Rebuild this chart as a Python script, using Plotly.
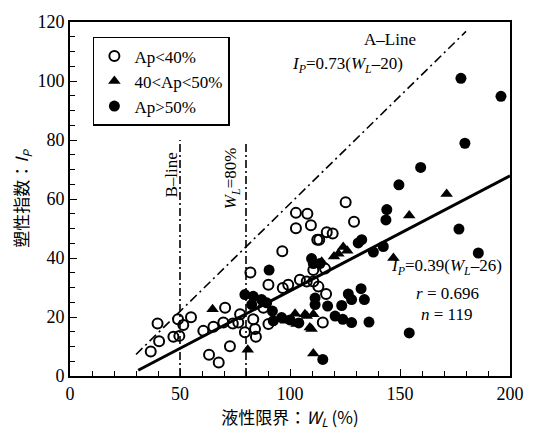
import plotly.graph_objects as go

# Ap < 40 %
open_wl = [36.7, 40.5, 39.8, 47, 49.7, 49.1, 51.5, 55, 60.6, 65.2, 69.7, 70.5, 63.2, 67.6, 72.7,
           74, 77.3, 79.5, 84.1, 84.5, 83.3, 90.2, 87.9, 82, 90.2, 96.7, 99.2, 104.5, 107.6, 110.6,
           96.5, 102.7, 107.9, 102.7, 109.5, 112.4, 116.7, 119.4, 113.3, 125.3, 129.1, 110.6,
           115.9, 114.9, 112.9, 116.4, 76.5]
open_ip = [8.3, 11.8, 17.8, 13.3, 13.6, 19.2, 17.3, 19.9, 15.3, 16.7, 18.1, 23.1, 7.2, 4.6, 10.1,
           17.8, 20.9, 14.8, 15.9, 13.3, 19.2, 17.6, 23.1, 35.1, 30.9, 29.8, 30.9, 32.6, 32, 32,
           42.3, 55.3, 55, 50.1, 51.1, 46.2, 48.7, 48.3, 46.2, 58.9, 52.3, 35.9,
           36.4, 18.1, 30.3, 27.8, 18.1]

# 40 < Ap < 50 %
tri_wl = [171.2, 154.2, 147, 124.2, 122, 126, 120, 114.4, 64.8, 102.3, 103, 98.2, 107.6, 109,
          106.8, 110.6, 109.8, 80.8, 110.6]
tri_ip = [61.7, 54.4, 40, 43.7, 41.4, 42.5, 40.5, 38.7, 22.6, 21.1, 17.6, 18.7, 20.3, 16.4,
          20.9, 20.9, 15.9, 8.9, 7.6]

# Ap > 50 %
fill_wl = [177.7, 195.9, 179.5, 159.4, 149.5, 144, 143.6, 176.8, 185.6, 132.6, 131, 137.9, 142.4,
           109.8, 110.6, 113.6, 90.5, 132.3, 126.5, 128, 133.8, 123.5, 117.1, 120.5, 124, 128,
           135.9, 154.2, 114.9, 111.4, 111.4, 79.5, 83.3, 87.1, 89.4, 82.6, 92.4, 96.2, 100, 104, 92]
fill_ip = [100.9, 94.8, 78.9, 70.7, 64.8, 56.4, 52.9, 49.8, 41.7, 46.2, 45.1, 42, 43.9,
           39.8, 38.1, 38.1, 35.9, 29.6, 27.8, 25.9, 25.9, 23.9, 23.7, 20.3, 19.2, 18.1,
           18.3, 14.6, 5.6, 26.4, 24.2, 27.6, 27, 25.9, 24.8, 24.2, 18.7, 19.8, 19, 18, 22]

# reference lines
a_wl = [30, 180]
a_ip = [0.73 * (w - 20) for w in a_wl]
reg_wl = [31, 200]
reg_ip = [0.39 * (w - 26) for w in reg_wl]
b_wl = [50, 50]
b_ip = [0, 80]
w80_wl = [80, 80]
w80_ip = [0, 79]

SERIF = "Liberation Serif, Times New Roman, serif"
CJK = "Noto Sans CJK JP"

fig = go.Figure()
fig.add_trace(go.Scatter(x=a_wl, y=a_ip, mode="lines", showlegend=False,
                         line=dict(color="black", width=1.6, dash="9px,4px,2px,4px")))
fig.add_trace(go.Scatter(x=b_wl, y=b_ip, mode="lines", showlegend=False,
                         line=dict(color="black", width=1.6, dash="8px,3px,2px,3px")))
fig.add_trace(go.Scatter(x=w80_wl, y=w80_ip, mode="lines", showlegend=False,
                         line=dict(color="black", width=1.6, dash="8px,3px,2px,3px")))
fig.add_trace(go.Scatter(x=reg_wl, y=reg_ip, mode="lines", showlegend=False,
                         line=dict(color="black", width=3)))
fig.add_trace(go.Scatter(x=open_wl, y=open_ip, mode="markers", name="Ap<40%",
                         marker=dict(symbol="circle-open", size=10, color="black",
                                     line=dict(width=2, color="black"))))
fig.add_trace(go.Scatter(x=tri_wl, y=tri_ip, mode="markers", name="40<Ap<50%",
                         marker=dict(symbol="triangle-up", size=11, color="black")))
fig.add_trace(go.Scatter(x=fill_wl, y=fill_ip, mode="markers", name="Ap>50%",
                         marker=dict(symbol="circle", size=11, color="black")))

ann_font = dict(family=SERIF, size=17, color="black")
fig.add_annotation(x=145.5, y=114, text="A–Line", showarrow=False, font=ann_font)
fig.add_annotation(x=126, y=105.5, text="<i>I</i><sub><i>P</i></sub>=0.73(<i>W</i><sub><i>L</i></sub>–20)",
                   showarrow=False, font=ann_font)
fig.add_annotation(x=171, y=37, text="<i>I</i><sub><i>P</i></sub>=0.39(<i>W</i><sub><i>L</i></sub>–26)",
                   showarrow=False, font=ann_font)
fig.add_annotation(x=171.5, y=28, text="<i>r</i> = 0.696", showarrow=False, font=ann_font)
fig.add_annotation(x=171, y=21, text="<i>n</i> = 119", showarrow=False, font=ann_font)
fig.add_annotation(x=46, y=68, text="B–line", textangle=-90, showarrow=False, font=ann_font)
fig.add_annotation(x=74, y=67, text="<i>W</i><sub><i>L</i></sub>=80%", textangle=-90,
                   showarrow=False, font=ann_font)

fig.update_xaxes(range=[0, 200], tickvals=[0, 50, 100, 150, 200], ticks="inside", ticklen=7,
                 tickwidth=1.2, tickcolor="black",
                 minor=dict(dtick=10, ticks="inside", ticklen=5, tickcolor="black"),
                 showgrid=False, zeroline=False, showline=True, linecolor="black", linewidth=2,
                 mirror=True, tickfont=dict(family=SERIF, size=18, color="black"),
                 title=dict(text="液性限界：<i>W</i><sub><i>L</i></sub> (%)",
                            font=dict(family=CJK, size=17, color="black"), standoff=2))
fig.update_yaxes(range=[0, 120], dtick=20, ticks="inside", ticklen=7, tickwidth=1.2,
                 tickcolor="black",
                 minor=dict(dtick=5, ticks="inside", ticklen=5, tickcolor="black"),
                 showgrid=False, zeroline=False, showline=True, linecolor="black", linewidth=2,
                 mirror=True, tickfont=dict(family=SERIF, size=18, color="black"),
                 title=dict(text="塑性指数：<i>I</i><sub><i>P</i></sub>",
                            font=dict(family=CJK, size=17, color="black"), standoff=4))

fig.update_layout(
    width=536, height=437,
    margin=dict(l=70, r=26, t=16, b=61),
    plot_bgcolor="white", paper_bgcolor="white",
    legend=dict(x=0.052, y=0.958, xanchor="left", yanchor="top",
                bordercolor="black", borderwidth=1.5, bgcolor="white",
                font=dict(family=SERIF, size=17, color="black"),
                itemwidth=30, tracegroupgap=0),
)

fig.write_html("out.html")
